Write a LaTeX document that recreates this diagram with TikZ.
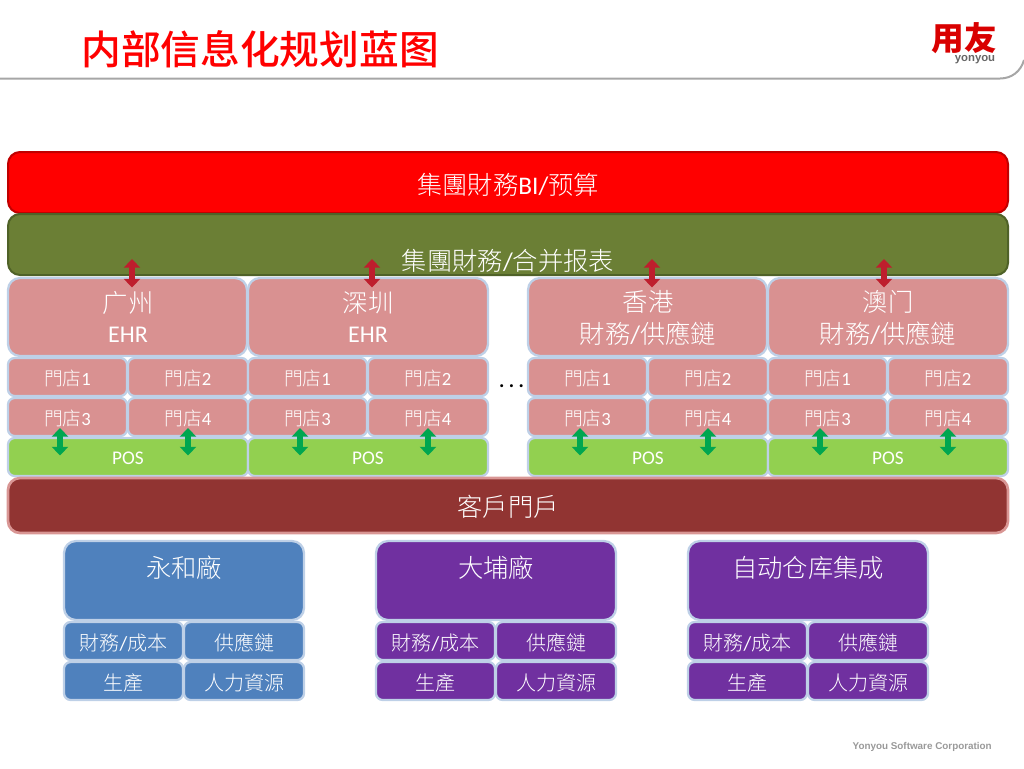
\documentclass[tikz,border=0pt]{standalone}
\usepackage{fontspec}
\usetikzlibrary{arrows.meta}
\setmainfont{Carlito}
\newfontfamily\cjk{Noto Sans CJK TC Light}
\newfontfamily\cjkb{Noto Sans CJK SC Medium}
\newfontfamily\logof{Noto Sans CJK SC Black}
\newfontfamily\arialf{Liberation Sans}
\newcommand{\cj}[1]{{\cjk #1}}
\definecolor{redfill}{HTML}{FF0000}
\definecolor{redline}{HTML}{C00000}
\definecolor{olive}{HTML}{6B7F35}
\definecolor{oliveline}{HTML}{4F6228}
\definecolor{pinkfill}{HTML}{D99191}
\definecolor{paleline}{HTML}{BED0E7}
\definecolor{posgreen}{HTML}{92D050}
\definecolor{portal}{HTML}{913432}
\definecolor{portalline}{HTML}{D99694}
\definecolor{bluefill}{HTML}{4F81BD}
\definecolor{purplefill}{HTML}{7030A0}
\definecolor{crimson}{HTML}{BE1E2D}
\definecolor{arrowgreen}{HTML}{00A650}
\tikzset{
  x=0.75pt,y=-0.75pt,
  txt/.style={text=white,inner sep=0pt,align=center},
  redarrow/.style={draw=crimson,line width=4.8pt,{Triangle[width=12pt,length=6.5pt]}-{Triangle[width=12pt,length=6.5pt]}},
  greenarrow/.style={draw=arrowgreen,line width=4.8pt,{Triangle[width=12pt,length=6.5pt]}-{Triangle[width=12pt,length=6.5pt]}},
}
% #1 name, #2 fill, #3 radius, #4 x0, #5 y0, #6 x1, #7 y1
\newcommand{\bx}[7]{\draw[draw=paleline,line width=1.7pt,fill=#2,rounded corners=#3] (#4,#5) rectangle (#6,#7);
  \coordinate (#1) at ({(#4+#6)/2},{(#5+#7)/2});}
\newcommand{\store}[2]{%
  \bx{s#1a}{pinkfill}{5pt}{#2}{358}{#2+119}{396}
  \bx{s#1b}{pinkfill}{5pt}{#2+120}{358}{#2+240}{396}
  \bx{s#1c}{pinkfill}{5pt}{#2}{398}{#2+119}{436}
  \bx{s#1d}{pinkfill}{5pt}{#2+120}{398}{#2+240}{436}
  \bx{s#1e}{posgreen}{5pt}{#2}{438}{#2+240}{476}
  \node[txt,font=\fontsize{14}{16}\selectfont] (t#1a) at ([yshift=-0.8pt]s#1a) {\cj{門店}1};
  \node[txt,font=\fontsize{14}{16}\selectfont] (t#1b) at ([yshift=-0.8pt]s#1b) {\cj{門店}2};
  \node[txt,font=\fontsize{14}{16}\selectfont] (t#1c) at ([yshift=-0.8pt]s#1c) {\cj{門店}3};
  \node[txt,font=\fontsize{14}{16}\selectfont] (t#1d) at ([yshift=-0.8pt]s#1d) {\cj{門店}4};
  \node[txt,font=\fontsize{14.5}{16}\selectfont] (t#1e) at ([yshift=-0.6pt]s#1e) {POS};
  \coordinate (ga#1) at (#2+52,428);\coordinate (gb#1) at (#2+52,455.5);
  \coordinate (gc#1) at (#2+180,428);\coordinate (gd#1) at (#2+180,455.5);
  \draw[greenarrow] (ga#1) -- (gb#1);
  \draw[greenarrow] (gc#1) -- (gd#1);
}
\newcommand{\plant}[4]{%
  \bx{p#1}{#3}{9pt}{#2}{541}{#2+240}{620}
  \bx{p#1a}{#3}{5pt}{#2}{622}{#2+119}{660}
  \bx{p#1b}{#3}{5pt}{#2+120}{622}{#2+240}{660}
  \bx{p#1c}{#3}{5pt}{#2}{662}{#2+119}{700}
  \bx{p#1d}{#3}{5pt}{#2+120}{662}{#2+240}{700}
  \node[txt,font=\fontsize{19}{22}\selectfont] (pt#1) at (#2+120,567.5) {\cj{#4}};
  \node[txt,font=\fontsize{15}{18}\selectfont] (pt#1a) at ([yshift=-1.1pt]p#1a) {\cj{財務}/\cj{成本}};
  \node[txt,font=\fontsize{15}{18}\selectfont] (pt#1b) at ([yshift=-1.1pt]p#1b) {\cj{供應鏈}};
  \node[txt,font=\fontsize{15}{18}\selectfont] (pt#1c) at ([yshift=-1.1pt]p#1c) {\cj{生產}};
  \node[txt,font=\fontsize{15}{18}\selectfont] (pt#1d) at ([yshift=-1.1pt]p#1d) {\cj{人力資源}};
}
\begin{document}
\begin{tikzpicture}
\useasboundingbox (0,0) rectangle (1024,768);
% header rule
\coordinate (ruleL) at (0,78.5);
\coordinate (ruleR) at (1024,60);
\draw[draw=black!35,line width=1.5pt] (ruleL) -- (1000,78.5) .. controls (1012,78.5) and (1021,71) .. (ruleR);
\node[inner sep=0pt,text=redfill,font=\fontsize{29.8}{34}\selectfont\cjkb,anchor=west] (title) at (81,49) {内部信息化规划蓝图};
% logo
\node[inner sep=0pt,text=red!85!black,font=\fontsize{24.5}{26}\selectfont\logof] (logo) at (964.5,38) {用友};
\node[inner sep=0pt,text=black!60,font=\fontsize{8.5}{10}\selectfont\arialf\bfseries] (logotxt) at (975,60) {yonyou};
\node[inner sep=0pt,text=black!40,font=\fontsize{7.4}{9}\selectfont\arialf\bfseries,anchor=east] (foot) at (992,747) {Yonyou Software Corporation};
% top bars
\draw[draw=redline,line width=1.5pt,fill=redfill,rounded corners=9pt] (8,152) rectangle (1008,213);
\coordinate (barA) at (508,184.5);
\draw[draw=oliveline,line width=1.5pt,fill=olive,rounded corners=9pt] (8,214) rectangle (1008,275);
\coordinate (barB) at (508,260.5);
\node[txt,font=\fontsize{19}{22}\selectfont] (tA) at (barA) {\cj{集團財務}BI/\cj{预算}};
\node[txt,font=\fontsize{19}{22}\selectfont] (tB) at (barB) {\cj{集團財務}/\cj{合并报表}};
% branch heads
\bx{h1}{pinkfill}{9pt}{8}{278}{247}{356}
\bx{h2}{pinkfill}{9pt}{248}{278}{488}{356}
\bx{h3}{pinkfill}{9pt}{528}{278}{767}{356}
\bx{h4}{pinkfill}{9pt}{768}{278}{1008}{356}
\node[txt,font=\fontsize{19}{24.5}\selectfont] (ht1) at (128,318) {\cj{广州}\\{\fontsize{18}{24.5}\selectfont\raisebox{1.6pt}{EHR}}};
\node[txt,font=\fontsize{19}{24.5}\selectfont] (ht2) at (368,318) {\cj{深圳}\\{\fontsize{18}{24.5}\selectfont\raisebox{1.6pt}{EHR}}};
\node[txt,font=\fontsize{19}{24.5}\selectfont] (ht3) at (648,318) {\cj{香港}\\\cj{財務}/\cj{供應鏈}};
\node[txt,font=\fontsize{19}{24.5}\selectfont] (ht4) at (888,318) {\cj{澳门}\\\cj{財務}/\cj{供應鏈}};
\store{1}{8}
\store{2}{248}
\store{3}{528}
\store{4}{768}
\node[inner sep=0pt,text=black,font=\fontsize{15}{18}\selectfont\bfseries] (dots) at (511.5,386) {.\kern3.3pt.\kern3.3pt.};
% portal
\draw[draw=portalline,line width=2pt,fill=portal,rounded corners=9pt] (8,478) rectangle (1008,533);
\coordinate (portalc) at (508,507);
\node[txt,font=\fontsize{19}{22}\selectfont] (tP) at (portalc) {\cj{客戶門戶}};
% plants
\plant{1}{64}{bluefill}{永和廠}
\plant{2}{376}{purplefill}{大埔廠}
\plant{3}{688}{purplefill}{自动仓库集成}
% red arrows
\coordinate (ra1) at (132,259);\coordinate (rb1) at (132,287.5);
\coordinate (ra2) at (372,259);\coordinate (rb2) at (372,287.5);
\coordinate (ra3) at (652,259);\coordinate (rb3) at (652,287.5);
\coordinate (ra4) at (884,259);\coordinate (rb4) at (884,287.5);
\draw[redarrow] (ra1) -- (rb1);
\draw[redarrow] (ra2) -- (rb2);
\draw[redarrow] (ra3) -- (rb3);
\draw[redarrow] (ra4) -- (rb4);
\end{tikzpicture}
\end{document}
